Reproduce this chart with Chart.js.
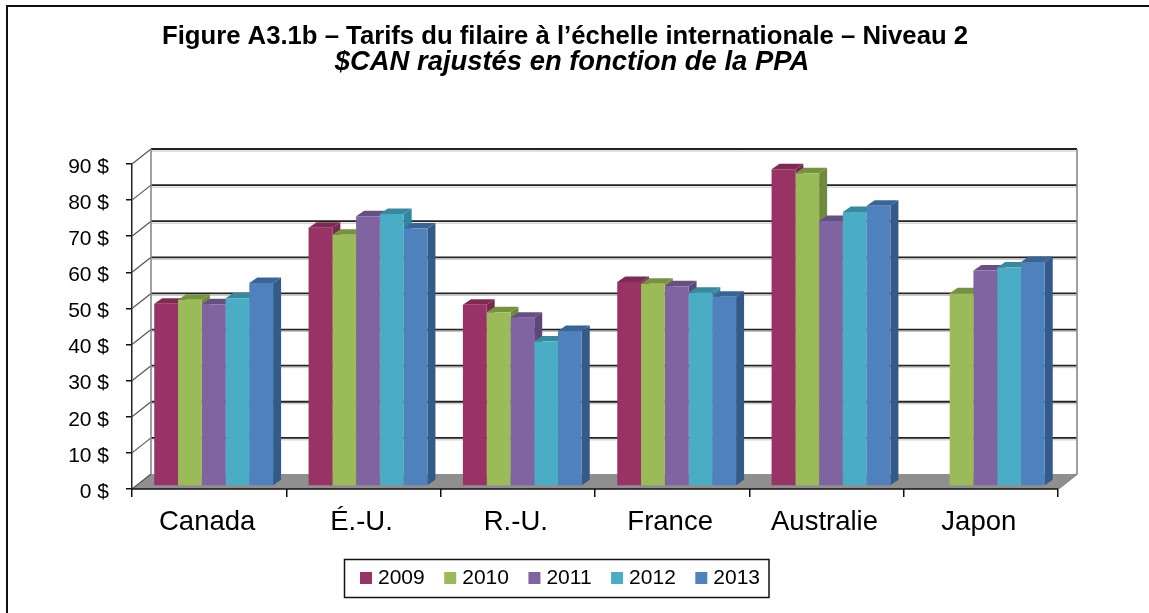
<!DOCTYPE html>
<html lang="fr"><head><meta charset="utf-8">
<style>html,body{margin:0;padding:0;background:#fff}#w{position:relative;width:1149px;height:613px}</style>
<script src="https://cdn.jsdelivr.net/npm/chart.js@4/dist/chart.umd.min.js"></script>
</head><body><div id="w"><canvas id="c" width="1149" height="613"></canvas></div>
<script>
const categories = ["Canada", "É.-U.", "R.-U.", "France", "Australie", "Japon"];
const years = ["2009", "2010", "2011", "2012", "2013"];
const v2009 = [50.5, 71.5, 50.2, 56.5, 87.7, null];
const v2010 = [51.6, 69.6, 48.1, 56.0, 86.6, 53.4];
const v2011 = [50.3, 74.7, 46.6, 55.3, 73.4, 59.7];
const v2012 = [52.0, 75.3, 40.0, 53.5, 75.9, 60.5];
const v2013 = [56.2, 71.3, 42.9, 52.4, 77.6, 62.0];
const seriesValues = [v2009, v2010, v2011, v2012, v2013];
const frontColors = ["#993366", "#9BBB59", "#8064A2", "#4BACC6", "#4F81BD"];
const sideColors = ["#7A2850", "#6F8A3C", "#5C4778", "#31859C", "#335A88"];
const topColors = ["#7F2A55", "#77923F", "#664F83", "#36899F", "#3A6497"];
const titleText = "Figure A3.1b – Tarifs du filaire à l’échelle internationale – Niveau 2";
const subtitleText = "$CAN rajustés en fonction de la PPA";

const FONT = '"Liberation Sans", Arial, sans-serif';
const WALL_DX = 19, WALL_DY = 15, BAR_DX = 8, BAR_DY = 5.5, SHIFT_X = 4.5, SHIFT_Y = -3;

const decor = {
  id: 'decor',
  afterLayout(chart) {
    const l = chart.legend;
    l.left = 340.5; l.right = 900; l.width = 559.5; l.top = 543.5; l.bottom = 598; l.height = 54.5;
    chart.boxes.forEach(b => {
      if (b.options && b.options.text === titleText) { b.left = 0; b.right = 1130; b.width = 1130; }
      if (b.options && b.options.text === subtitleText) { b.left = 0; b.right = 1144; b.width = 1144; }
    });
  },
  beforeDraw(chart) {
    const c = chart.ctx;
    c.save();
    c.fillStyle = '#fff'; c.fillRect(0, 0, chart.width, chart.height);
    c.strokeStyle = '#111'; c.lineWidth = 2;
    c.beginPath(); c.moveTo(7, 613); c.lineTo(7, 6); c.lineTo(1149, 6); c.stroke();
    c.lineWidth = 1.5; c.strokeStyle = '#111';
    c.strokeRect(344.5, 559.5, 424.5, 38);
    c.restore();
  },
  beforeDatasetsDraw(chart) {
    const c = chart.ctx, y = chart.scales.y, a = chart.chartArea;
    const L = a.left, R = a.right, y0 = y.getPixelForValue(0);
    c.save();
    // floor
    c.fillStyle = '#8F8F8F';
    c.beginPath();
    c.moveTo(L, y0); c.lineTo(L + WALL_DX, y0 - WALL_DY); c.lineTo(R + WALL_DX, y0 - WALL_DY); c.lineTo(R, y0);
    c.closePath(); c.fill();
    // wall grid
    y.ticks.forEach(t => {
      const p = y.getPixelForValue(t.value);
      if (t.value > 0) {
        c.strokeStyle = 'rgba(170,170,170,.7)'; c.lineWidth = 1;
        c.beginPath(); c.moveTo(L + WALL_DX, p - WALL_DY + 2); c.lineTo(R + WALL_DX, p - WALL_DY + 2); c.stroke();
        c.strokeStyle = '#222'; c.lineWidth = 1.8;
        c.beginPath(); c.moveTo(L + WALL_DX, p - WALL_DY); c.lineTo(R + WALL_DX, p - WALL_DY); c.stroke();
      }
      c.strokeStyle = '#555'; c.lineWidth = 1.2;
      c.beginPath(); c.moveTo(L, p); c.lineTo(L + WALL_DX, p - WALL_DY); c.stroke();
    });
    // wall verticals
    const yt = y.getPixelForValue(90) - WALL_DY;
    c.strokeStyle = '#8A8A8A'; c.lineWidth = 1.6;
    c.beginPath(); c.moveTo(L + WALL_DX, yt); c.lineTo(L + WALL_DX, y0 - WALL_DY);
    c.moveTo(R + WALL_DX, yt); c.lineTo(R + WALL_DX, y0 - WALL_DY); c.lineTo(R, y0); c.stroke();
    // front edge of the floor
    c.strokeStyle = '#111'; c.lineWidth = 1.5;
    c.beginPath(); c.moveTo(L, y0); c.lineTo(R, y0); c.stroke();
    // depth faces of every bar, first series first; the library then paints the front faces
    c.translate(SHIFT_X, SHIFT_Y);
    years.forEach((yr, i) => {
      chart.getDatasetMeta(i).data.forEach((el, k) => {
        if (seriesValues[i][k] == null) return;
        const p = el.getProps(['x', 'y', 'base', 'width']);
        const xl = p.x - p.width / 2, xr = p.x + p.width / 2;
        c.fillStyle = sideColors[i];
        c.beginPath();
        c.moveTo(xr, p.y); c.lineTo(xr + BAR_DX, p.y - BAR_DY); c.lineTo(xr + BAR_DX, p.base - BAR_DY); c.lineTo(xr, p.base);
        c.closePath(); c.fill();
        c.fillStyle = topColors[i];
        c.beginPath();
        c.moveTo(xl, p.y); c.lineTo(xl + BAR_DX, p.y - BAR_DY); c.lineTo(xr + BAR_DX, p.y - BAR_DY); c.lineTo(xr, p.y);
        c.closePath(); c.fill();
      });
    });
    c.restore();
  },
  beforeDatasetDraw(chart) { chart.ctx.save(); chart.ctx.translate(SHIFT_X, SHIFT_Y); },
  afterDatasetDraw(chart) { chart.ctx.restore(); }
};

new Chart(document.getElementById('c'), {
  type: 'bar',
  data: {
    labels: categories,
    datasets: years.map((yr, i) => ({
      label: yr,
      data: seriesValues[i],
      backgroundColor: frontColors[i],
      borderWidth: 0,
      categoryPercentage: 0.77,
      barPercentage: 1,
      clip: false
    }))
  },
  options: {
    responsive: false,
    animation: false,
    events: [],
    layout: { autoPadding: false, padding: { left: 0, right: 91, top: 0, bottom: 0 } },
    plugins: {
      tooltip: { enabled: false },
      title: {
        display: true, text: titleText, color: '#000',
        font: { family: FONT, size: 25.7, weight: 'bold', lineHeight: 0.98 },
        padding: { top: 24, bottom: 0 }
      },
      subtitle: {
        display: true, text: subtitleText, color: '#000',
        font: { family: FONT, size: 27.4, weight: 'bold', style: 'italic', lineHeight: 1 },
        padding: { top: 0, bottom: 87.4 }
      },
      legend: {
        position: 'bottom', align: 'start',
        labels: {
          color: '#000', font: { family: FONT, size: 21 },
          usePointStyle: true, pointStyle: 'rect',
          boxWidth: 3, boxHeight: 12, padding: 24
        }
      }
    },
    scales: {
      x: {
        offset: true,
        grid: { display: true, drawOnChartArea: false, drawTicks: true, tickLength: 8, offset: true, color: '#111', lineWidth: 1.5 },
        border: { display: false },
        ticks: { color: '#000', font: { family: FONT, size: 27.5 }, padding: 9, maxRotation: 0, labelOffset: -2 },
        afterFit(s) { s.height = 612 - 488 - (s.chart.legend ? s.chart.legend.height : 0); }
      },
      y: {
        min: 0, max: 90,
        grid: { display: true, drawOnChartArea: false, drawTicks: true, tickLength: 6, color: '#111', lineWidth: 1.5 },
        border: { display: true, color: '#222', width: 1.5 },
        ticks: { stepSize: 10, color: '#000', font: { family: FONT, size: 21 }, padding: 17, labelOffset: 3, callback: v => v + ' $' },
        afterFit(s) { s.width = 132; }
      }
    }
  },
  plugins: [decor]
});
</script></body></html>
